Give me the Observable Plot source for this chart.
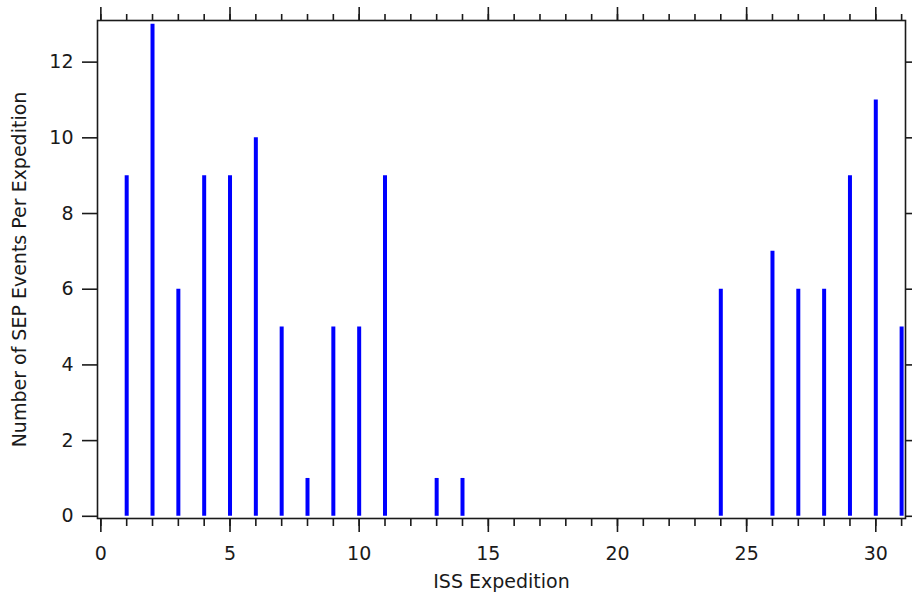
<!DOCTYPE html>
<html><head><meta charset="utf-8">
<script src="https://cdn.jsdelivr.net/npm/d3@7"></script>
<script src="https://cdn.jsdelivr.net/npm/@observablehq/plot@0.6"></script>
<style>body{margin:0;background:#fff} svg{display:block}</style>
</head><body><div id="chart"></div>
<script>
const expeditions = [1,2,3,4,5,6,7,8,9,10,11,12,13,14,15,16,17,18,19,20,21,22,23,24,25,26,27,28,29,30,31];
const events =      [9,13,6,9,9,10,5,1,5,5,9,0,1,1,0,0,0,0,0,0,0,0,0,6,0,7,6,6,9,11,5];
const xMajorTicks = [0,5,10,15,20,25,30];
const xMinorTicks = [0,1,2,3,4,5,6,7,8,9,10,11,12,13,14,15,16,17,18,19,20,21,22,23,24,25,26,27,28,29,30,31];
const yTicks = [0,2,4,6,8,10,12];
const xLabel = "ISS Expedition";
const yLabel = "Number of SEP Events Per Expedition";

const data = expeditions.map((e, i) => ({expedition: e, events: events[i]}));
const ink = "#1a1a1a";
const sw = 1.6;

const chart = Plot.plot({
  width: 912, height: 593,
  marginLeft: 97, marginRight: 7, marginTop: 20, marginBottom: 75,
  style: {fontFamily: "'DejaVu Sans', sans-serif", fontSize: "19px", color: ink, background: "white"},
  x: {domain: [-0.13, 31.15]},
  y: {domain: [-0.058, 13.1]},
  marks: [
    Plot.ruleX(data.filter(d => d.events > 0), {x: "expedition", y1: 0, y2: "events", stroke: "#0000ff", strokeWidth: 4}),
    Plot.frame({stroke: ink, strokeWidth: sw}),
    Plot.axisX({ticks: xMajorTicks, anchor: "bottom", tickSize: 14, tickPadding: 14, strokeWidth: sw, stroke: ink,
      label: xLabel, labelAnchor: "center", labelArrow: "none", labelOffset: 69}),
    Plot.axisX({ticks: xMinorTicks, anchor: "bottom", tickSize: 8, strokeWidth: sw, stroke: ink, text: null, label: null}),
    Plot.axisX({ticks: xMajorTicks, anchor: "top", tickSize: 14, strokeWidth: sw, stroke: ink, text: null, label: null}),
    Plot.axisX({ticks: xMinorTicks, anchor: "top", tickSize: 7, strokeWidth: sw, stroke: ink, text: null, label: null}),
    Plot.axisY({ticks: yTicks, anchor: "left", tickSize: 15, tickPadding: 9, strokeWidth: sw, stroke: ink,
      label: yLabel, labelAnchor: "center", labelArrow: "none", labelOffset: 85}),
    Plot.axisY({ticks: yTicks, anchor: "right", tickSize: 8, strokeWidth: sw, stroke: ink, text: null, label: null})
  ]
});
document.getElementById("chart").append(chart);
</script>
</body></html>
